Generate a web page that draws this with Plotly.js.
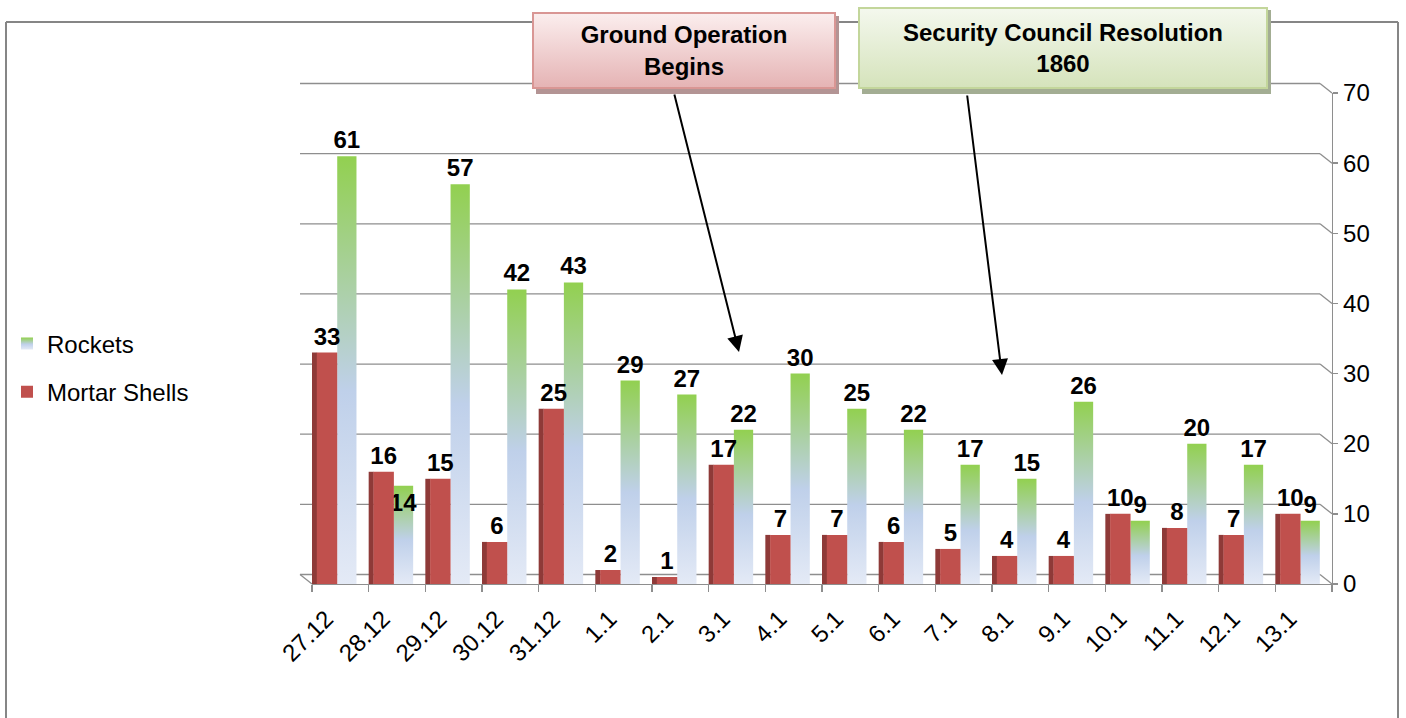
<!DOCTYPE html>
<html>
<head>
<meta charset="utf-8">
<script src="https://cdn.plot.ly/plotly-3.0.1.min.js"></script>
<style>
  html, body { margin: 0; padding: 0; background: #fff; }
  #chart { width: 1406px; height: 718px; }
</style>
</head>
<body>
<div id="chart"></div>
<script>
// ---- data ----
const dates = ['27.12','28.12','29.12','30.12','31.12','1.1','2.1','3.1','4.1','5.1','6.1','7.1','8.1','9.1','10.1','11.1','12.1','13.1'];
const mortarShells = [33,16,15,6,25,2,1,17,7,7,6,5,4,4,10,8,7,10];
const rockets = [61,14,57,42,43,29,27,22,30,25,22,17,15,26,9,20,17,9];
const yTicks = [0,10,20,30,40,50,60,70];
const seriesNames = ['Rockets', 'Mortar Shells'];
const eventLabels = ['Ground Operation<br>Begins', 'Security Council Resolution<br>1860'];

// ---- styling ----
const FONT = 'Arial, "Liberation Sans", sans-serif';
const GRID = '#8e8e8e';
const W = 1406, H = 718;
const M = {l: 312, r: 74, t: 93, b: 134, autoexpand: false};
const PW = W - M.l - M.r, PH = H - M.t - M.b;
const px2x = p => (p - M.l) / PW;       // pixel -> paper x
const py2y = p => (M.t + PH - p) / PH;  // pixel -> paper y
const dX = 12 / PW, dY = 9.5 / PH;      // 3D back-wall offset

const labelFont = {family: FONT, size: 24, color: '#000', weight: 'bold'};
// where the rocket label would collide with the mortar label, keep it just inside the bar top
const rocketTextPos = rockets.map((r, i) => (i === 1 ? 'inside' : 'outside'));

const traces = [
  {
    type: 'bar', name: seriesNames[0], x: dates, y: rockets,
    legendgroup: 'r',
    marker: {color: '#b9cde5', line: {width: 0}},
    offset: -0.055, width: 0.34,
    text: rockets.map(String), textposition: rocketTextPos, insidetextanchor: 'end', textangle: 0,
    textfont: labelFont, insidetextfont: labelFont, outsidetextfont: labelFont,
    constraintext: 'none', cliponaxis: false, hoverinfo: 'skip'
  },
  {
    type: 'bar', name: 'side', x: dates, y: mortarShells,
    legendgroup: 'm', showlegend: false,
    marker: {color: '#8e3a38', line: {width: 0}},
    offset: -0.5, width: 0.09, hoverinfo: 'skip'
  },
  {
    type: 'bar', name: seriesNames[1], x: dates, y: mortarShells,
    legendgroup: 'm',
    marker: {color: '#c0504d', line: {width: 0}},
    offset: -0.415, width: 0.36,
    text: mortarShells.map(String), textposition: 'outside', textangle: 0, textfont: labelFont,
    constraintext: 'none', cliponaxis: false, hoverinfo: 'skip'
  }
];

// gridlines drawn on a shifted "back wall", computed from tick values
const shapes = [];
yTicks.forEach(v => {
  const yp = v / 70;
  shapes.push({type: 'line', xref: 'paper', yref: 'paper', layer: 'below',
    x0: -dX, x1: 1 - dX, y0: yp + dY, y1: yp + dY, line: {color: GRID, width: 1.3}});
  shapes.push({type: 'line', xref: 'paper', yref: 'paper', layer: 'below',
    x0: 1 - dX, x1: 1, y0: yp + dY, y1: yp, line: {color: GRID, width: 1.3}});
});
// floor left edge
shapes.push({type: 'line', xref: 'paper', yref: 'paper', layer: 'below',
  x0: -dX, x1: 0, y0: dY, y1: 0, line: {color: GRID, width: 1.3}});
// chart border (three visible edges)
const bL = px2x(6), bR = px2x(1398), bT = py2y(22), bB = py2y(760);
[[bL, bT, bR, bT], [bL, bT, bL, bB], [bR, bT, bR, bB]].forEach(([x0, y0, x1, y1]) => {
  shapes.push({type: 'line', xref: 'paper', yref: 'paper', layer: 'below',
    x0, y0, x1, y1, line: {color: '#868686', width: 2}});
});
// box shadows
shapes.push({type: 'rect', xref: 'paper', yref: 'paper', layer: 'above',
  x0: px2x(536), x1: px2x(839), y0: py2y(94), y1: py2y(16),
  line: {width: 0}, fillcolor: '#b39494'});
shapes.push({type: 'rect', xref: 'paper', yref: 'paper', layer: 'above',
  x0: px2x(862), x1: px2x(1271), y0: py2y(94), y1: py2y(10),
  line: {width: 0}, fillcolor: '#a3ad93'});

const annotations = [
  {xref: 'paper', yref: 'paper', x: px2x(684), y: py2y(51), xanchor: 'center', yanchor: 'middle',
   text: '<b>' + eventLabels[0] + '</b>', showarrow: false,
   font: {family: FONT, size: 24, color: '#000'},
   width: 300, height: 73, bgcolor: '#f0cfcf', bordercolor: '#d99694', borderwidth: 2, borderpad: 0},
  {xref: 'paper', yref: 'paper', x: px2x(1063), y: py2y(48), xanchor: 'center', yanchor: 'middle',
   text: '<b>' + eventLabels[1] + '</b>', showarrow: false,
   font: {family: FONT, size: 24, color: '#000'},
   width: 406, height: 78, bgcolor: '#e4edd5', bordercolor: '#c3d69b', borderwidth: 2, borderpad: 0},
  {xref: 'paper', yref: 'paper', x: px2x(739), y: py2y(352), text: '', showarrow: true,
   ax: -65, ay: -259, arrowhead: 2, arrowsize: 1.6, arrowwidth: 2, arrowcolor: '#000', standoff: 0},
  {xref: 'paper', yref: 'paper', x: px2x(1002), y: py2y(375), text: '', showarrow: true,
   ax: -35, ay: -281, arrowhead: 2, arrowsize: 1.6, arrowwidth: 2, arrowcolor: '#000', standoff: 0}
];

const layout = {
  width: W, height: H,
  margin: M,
  paper_bgcolor: '#fff', plot_bgcolor: 'rgba(0,0,0,0)',
  font: {family: FONT, size: 24, color: '#000'},
  barmode: 'group',
  showlegend: true,
  legend: {x: px2x(7), xanchor: 'left', y: py2y(368), yanchor: 'middle',
    traceorder: 'grouped', tracegroupgap: 14,
    font: {family: FONT, size: 24, color: '#000'}, bgcolor: 'rgba(0,0,0,0)'},
  xaxis: {
    type: 'category', categoryarray: dates, range: [-0.5, dates.length - 0.5],
    tickangle: -45, tickson: 'boundaries', ticks: 'outside', ticklen: 7,
    tickcolor: GRID, tickwidth: 1.3,
    ticklabelshift: -14, ticklabelstandoff: 10,
    showline: true, linecolor: GRID, linewidth: 1.3, showgrid: false, zeroline: false,
    tickfont: {family: FONT, size: 24, color: '#000'}, fixedrange: true, automargin: false
  },
  yaxis: {
    side: 'right', range: [0, 70], tickvals: yTicks, ticktext: yTicks.map(String),
    ticks: 'outside', ticklen: 5, tickcolor: GRID, tickwidth: 1.3,
    showline: true, linecolor: GRID, linewidth: 1.3, showgrid: false, zeroline: false,
    tickfont: {family: FONT, size: 24, color: '#000'}, fixedrange: true, automargin: false
  },
  shapes: shapes,
  annotations: annotations
};

function ensureGradients(gd) {
  const svg = gd.querySelector('.main-svg');
  if (!svg) return;
  let defs = svg.querySelector('defs');
  if (!defs) { defs = document.createElementNS('http://www.w3.org/2000/svg', 'defs'); svg.insertBefore(defs, svg.firstChild); }
  const mk = (id, stops) => {
    if (document.getElementById(id)) return;
    const g = document.createElementNS('http://www.w3.org/2000/svg', 'linearGradient');
    g.setAttribute('id', id); g.setAttribute('x1', '0'); g.setAttribute('y1', '0');
    g.setAttribute('x2', '0'); g.setAttribute('y2', '1');
    stops.forEach(([o, c]) => {
      const s = document.createElementNS('http://www.w3.org/2000/svg', 'stop');
      s.setAttribute('offset', o); s.setAttribute('stop-color', c); g.appendChild(s);
    });
    defs.appendChild(g);
  };
  mk('rocketGrad', [['0', '#92d050'], ['0.55', '#bfd0ea'], ['1', '#e4eaf6']]);
  mk('pinkGrad', [['0', '#fbeeee'], ['1', '#e5b3b4']]);
  mk('greenGrad', [['0', '#f4f8ee'], ['1', '#d5e3bb']]);
}

function applyStyles(gd) {
  ensureGradients(gd);
  gd.querySelectorAll('.barlayer .trace').forEach(t => {
    const d = t.__data__;
    if (d && d[0] && d[0].trace && d[0].trace.name === seriesNames[0]) {
      t.querySelectorAll('.point path').forEach(p => { p.style.fill = 'url(#rocketGrad)'; });
    }
  });
  gd.querySelectorAll('.legend .traces').forEach(t => {
    const d = t.__data__;
    if (d && d[0] && d[0].trace && d[0].trace.name === seriesNames[0]) {
      t.querySelectorAll('.legendpoints path').forEach(p => { p.style.fill = 'url(#rocketGrad)'; });
    }
  });
  const a0 = gd.querySelector('.annotation[data-index="0"] rect.bg');
  if (a0) a0.style.fill = 'url(#pinkGrad)';
  const a1 = gd.querySelector('.annotation[data-index="1"] rect.bg');
  if (a1) a1.style.fill = 'url(#greenGrad)';
}

const gd = document.getElementById('chart');
Plotly.newPlot(gd, traces, layout, {staticPlot: true, displayModeBar: false}).then(() => {
  applyStyles(gd);
  gd.on && gd.on('plotly_afterplot', () => applyStyles(gd));
});
</script>
</body>
</html>
